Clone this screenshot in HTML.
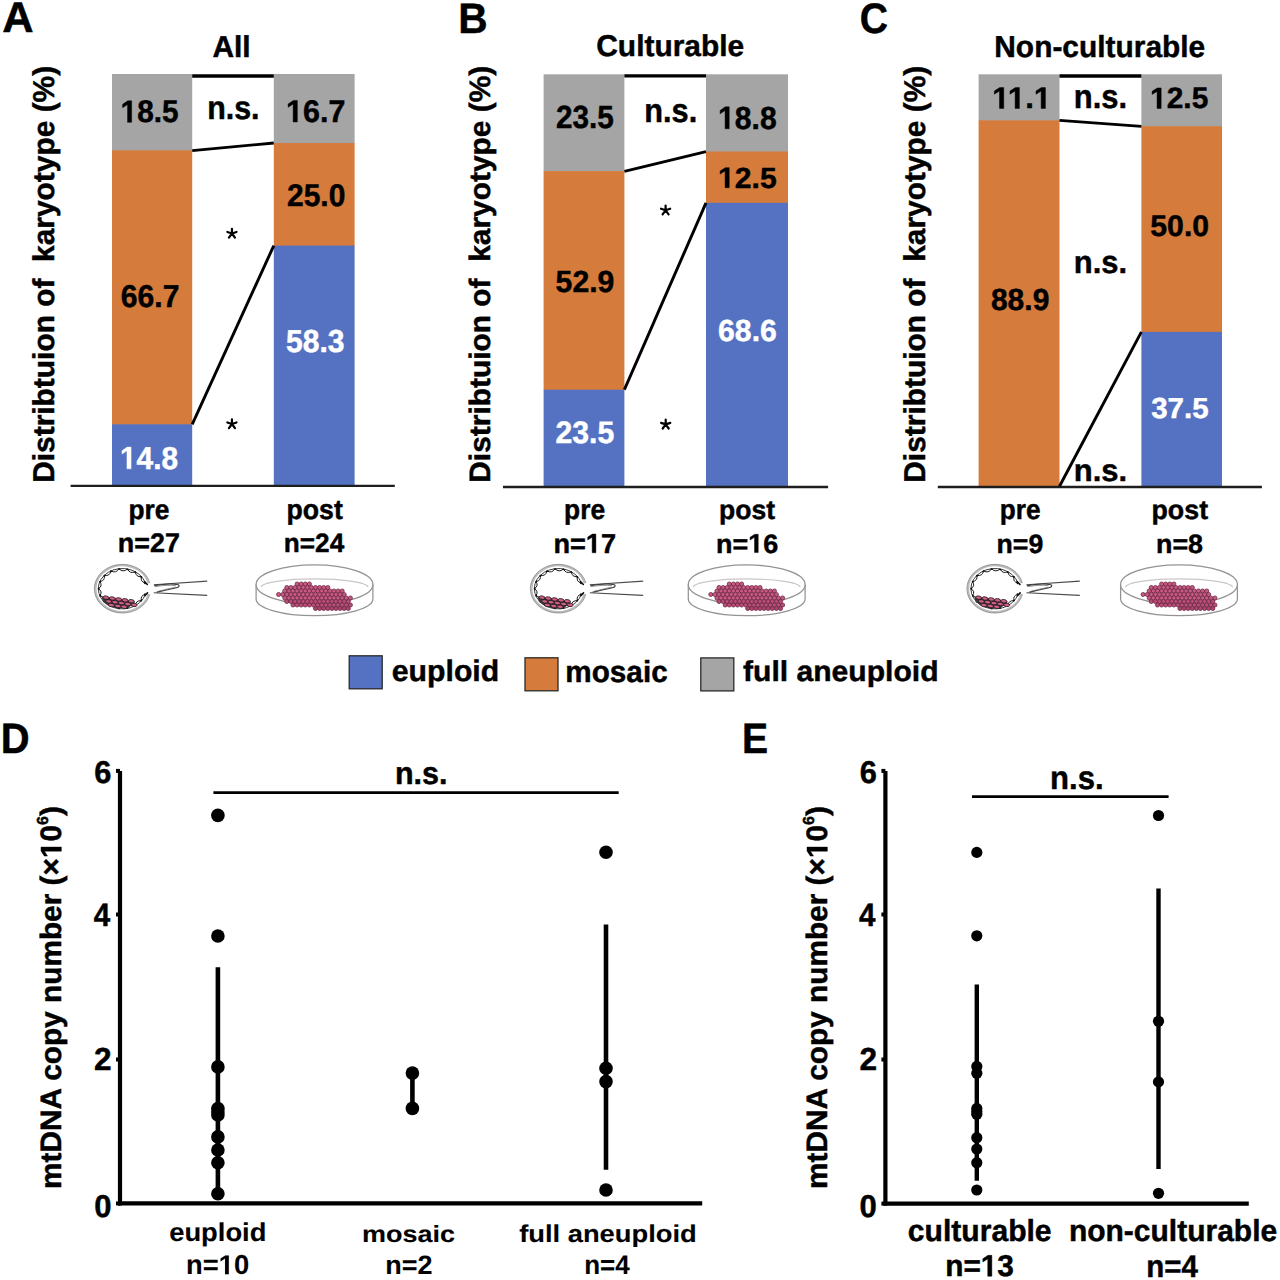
<!DOCTYPE html>
<html><head><meta charset="utf-8"><style>
html,body{margin:0;padding:0;background:#fff;}
svg{display:block;}
text{font-family:"Liberation Sans",sans-serif;font-weight:bold;font-size:100px;white-space:pre;text-rendering:geometricPrecision;}
</style></head><body>
<svg width="1280" height="1280" viewBox="0 0 1280 1280">
<defs>
<path id="one" d="M23.340,0.000 L23.340,-57.129 L6.836,-46.826 L6.836,-57.617 L24.072,-68.799 L37.061,-68.799 L37.061,0.000 Z"/>
<g id="embryo">
<path d="M26.4,-5.4 A27.0,23.2 0 1 0 26.4,5.4" fill="#fff" stroke="#bcbcbc" stroke-width="2.0"/>
<path d="M27.5,-5.6 A28.1,24.3 0 1 0 27.5,5.6" fill="none" stroke="#7a7a7a" stroke-width="0.7"/>
<path d="M23.07,5.57 A24.0,20.2 0 1 1 23.07,-5.57" fill="none" stroke="#222" stroke-width="0.9"/>
<path d="M23.07,5.57 Q17.58,6.99 19.29,12.02 Q13.43,11.51 13.07,16.94 Q7.58,14.57 5.19,19.72 Q0.77,15.79 -3.34,20.00 Q-6.14,15.01 -11.45,17.75 Q-12.27,12.32 -18.11,13.25 Q-16.84,8.08 -22.48,7.07 Q-19.29,2.81 -24.00,0.00 Q-19.29,-2.81 -22.48,-7.07 Q-16.84,-8.08 -18.11,-13.25 Q-12.27,-12.32 -11.45,-17.75 Q-6.14,-15.01 -3.34,-20.00 Q0.77,-15.79 5.19,-19.72 Q7.58,-14.57 13.07,-16.94 Q13.43,-11.51 19.29,-12.02 Q17.58,-6.99 23.07,-5.57" fill="none" stroke="#1a1a1a" stroke-width="1.0"/>
<g fill="#111"><circle cx="22.69" cy="5.46" r="0.95"/><circle cx="18.97" cy="11.78" r="0.95"/><circle cx="12.85" cy="16.61" r="0.95"/><circle cx="5.11" cy="19.33" r="0.95"/><circle cx="-3.28" cy="19.61" r="0.95"/><circle cx="-11.26" cy="17.40" r="0.95"/><circle cx="-17.81" cy="12.99" r="0.95"/><circle cx="-22.11" cy="6.93" r="0.95"/><circle cx="-23.60" cy="0.00" r="0.95"/><circle cx="-22.11" cy="-6.93" r="0.95"/><circle cx="-17.81" cy="-12.99" r="0.95"/><circle cx="-11.26" cy="-17.40" r="0.95"/><circle cx="-3.28" cy="-19.61" r="0.95"/><circle cx="5.11" cy="-19.33" r="0.95"/><circle cx="12.85" cy="-16.61" r="0.95"/><circle cx="18.97" cy="-11.78" r="0.95"/><circle cx="22.69" cy="-5.46" r="0.95"/></g>
<path d="M-20.5,8.2 L-10,9.0 L0,10.6 L12.5,12.6 L12,15.6 L5,19 L-5,19.8 L-14,17 L-19.6,12.8 Z" fill="#3a3a3a"/><g stroke="#151515" stroke-width="0.7"><ellipse cx="-16.3" cy="8.9" rx="3.0" ry="1.7" fill="#cf5d86" transform="rotate(8 -16.3 8.9)"/><ellipse cx="-10.0" cy="9.8" rx="3.0" ry="1.7" fill="#cf5d86" transform="rotate(8 -10.0 9.8)"/><ellipse cx="-3.6" cy="10.7" rx="3.0" ry="1.7" fill="#cf5d86" transform="rotate(8 -3.6 10.7)"/><ellipse cx="2.7" cy="11.6" rx="3.0" ry="1.7" fill="#cf5d86" transform="rotate(8 2.7 11.6)"/><ellipse cx="9.0" cy="12.5" rx="3.0" ry="1.7" fill="#cf5d86" transform="rotate(8 9.0 12.5)"/><ellipse cx="-13.6" cy="12.7" rx="3.0" ry="1.7" fill="#cf5d86" transform="rotate(8 -13.6 12.7)"/><ellipse cx="-7.3" cy="13.5" rx="3.0" ry="1.7" fill="#cf5d86" transform="rotate(8 -7.3 13.5)"/><ellipse cx="-0.9" cy="14.4" rx="3.0" ry="1.7" fill="#cf5d86" transform="rotate(8 -0.9 14.4)"/><ellipse cx="5.4" cy="15.3" rx="3.0" ry="1.7" fill="#cf5d86" transform="rotate(8 5.4 15.3)"/><ellipse cx="11.8" cy="16.2" rx="3.0" ry="1.7" fill="#cf5d86" transform="rotate(8 11.8 16.2)"/><ellipse cx="-10.9" cy="16.4" rx="3.0" ry="1.7" fill="#cf5d86" transform="rotate(8 -10.9 16.4)"/><ellipse cx="-4.5" cy="17.3" rx="3.0" ry="1.7" fill="#cf5d86" transform="rotate(8 -4.5 17.3)"/><ellipse cx="1.8" cy="18.1" rx="3.0" ry="1.7" fill="#cf5d86" transform="rotate(8 1.8 18.1)"/></g>
<path d="M31.5,-3.9 L84.9,-7.6 M31.5,4.1 L84.9,6.7" stroke="#4a4a4a" stroke-width="1.1" fill="none"/>
<path d="M32,-3.0 C40,-4.6 50,-5.2 56.2,-4.0 C57.6,-3.0 56.8,-1.6 54,-1.0 C47,0.4 40,2.2 34.2,3.6" stroke="#3a3a3a" stroke-width="1.05" fill="none"/><path d="M32.4,-2.0 C40,-3.4 48,-3.8 53.6,-3.0 M36,2.6 C42,1.0 48,-0.4 53.4,-1.6" stroke="#666" stroke-width="0.7" fill="none"/>
<path d="M22.2,-7.2 L25.0,-4.2 M22.6,7.0 L25.2,4.2" stroke="#111" stroke-width="1.6" stroke-linecap="round"/>
</g>
<g id="dish">
<path d="M-58.4,0 L-58.4,14.6 A58.4,16.6 0 0 0 58.4,14.6 L58.4,0" fill="#fff" stroke="#939393" stroke-width="1.25"/>
<ellipse cx="0" cy="0" rx="58.4" ry="19.6" fill="#fff" stroke="#939393" stroke-width="1.3"/>
<path d="M-53.5,2.8 A53.5,8.4 0 0 1 53.5,2.8" fill="none" stroke="#c8c8c8" stroke-width="1.1"/>
<g stroke="#6a2040" stroke-width="0.75"><circle cx="-17.4" cy="-0.5" r="2.05" fill="#c85a82"/><circle cx="-13.3" cy="-0.5" r="2.05" fill="#c85a82"/><circle cx="-9.2" cy="-0.5" r="2.05" fill="#c85a82"/><circle cx="-5.1" cy="-0.5" r="2.05" fill="#c85a82"/><circle cx="-27.7" cy="3.0" r="2.05" fill="#c85a82"/><circle cx="-23.6" cy="3.0" r="2.05" fill="#c85a82"/><circle cx="-19.5" cy="3.0" r="2.05" fill="#c85a82"/><circle cx="-15.4" cy="3.0" r="2.05" fill="#c85a82"/><circle cx="-11.3" cy="3.0" r="2.05" fill="#c85a82"/><circle cx="-7.2" cy="3.0" r="2.05" fill="#c85a82"/><circle cx="-3.1" cy="3.0" r="2.05" fill="#c85a82"/><circle cx="1.0" cy="3.0" r="2.05" fill="#c85a82"/><circle cx="5.1" cy="3.0" r="2.05" fill="#c85a82"/><circle cx="9.2" cy="3.0" r="2.05" fill="#c85a82"/><circle cx="13.3" cy="3.0" r="2.05" fill="#c85a82"/><circle cx="-29.8" cy="6.5" r="2.05" fill="#c85a82"/><circle cx="-25.6" cy="6.5" r="2.05" fill="#c85a82"/><circle cx="-21.5" cy="6.5" r="2.05" fill="#c85a82"/><circle cx="-17.4" cy="6.5" r="2.05" fill="#c85a82"/><circle cx="-13.3" cy="6.5" r="2.05" fill="#c85a82"/><circle cx="-9.2" cy="6.5" r="2.05" fill="#c85a82"/><circle cx="-5.1" cy="6.5" r="2.05" fill="#c85a82"/><circle cx="-1.0" cy="6.5" r="2.05" fill="#c85a82"/><circle cx="3.1" cy="6.5" r="2.05" fill="#c85a82"/><circle cx="7.2" cy="6.5" r="2.05" fill="#c85a82"/><circle cx="11.3" cy="6.5" r="2.05" fill="#c85a82"/><circle cx="15.4" cy="6.5" r="2.05" fill="#c85a82"/><circle cx="19.5" cy="6.5" r="2.05" fill="#c85a82"/><circle cx="23.6" cy="6.5" r="2.05" fill="#c85a82"/><circle cx="27.7" cy="6.5" r="2.05" fill="#c85a82"/><circle cx="-35.9" cy="10.0" r="2.05" fill="#c85a82"/><circle cx="-31.8" cy="10.0" r="2.05" fill="#c85a82"/><circle cx="-27.7" cy="10.0" r="2.05" fill="#c85a82"/><circle cx="-23.6" cy="10.0" r="2.05" fill="#c85a82"/><circle cx="-19.5" cy="10.0" r="2.05" fill="#c85a82"/><circle cx="-15.4" cy="10.0" r="2.05" fill="#c85a82"/><circle cx="-11.3" cy="10.0" r="2.05" fill="#c85a82"/><circle cx="-7.2" cy="10.0" r="2.05" fill="#c85a82"/><circle cx="-3.1" cy="10.0" r="2.05" fill="#c85a82"/><circle cx="1.0" cy="10.0" r="2.05" fill="#c85a82"/><circle cx="5.1" cy="10.0" r="2.05" fill="#c85a82"/><circle cx="9.2" cy="10.0" r="2.05" fill="#c85a82"/><circle cx="13.3" cy="10.0" r="2.05" fill="#c85a82"/><circle cx="17.4" cy="10.0" r="2.05" fill="#c85a82"/><circle cx="21.5" cy="10.0" r="2.05" fill="#c85a82"/><circle cx="25.6" cy="10.0" r="2.05" fill="#c85a82"/><circle cx="29.7" cy="10.0" r="2.05" fill="#c85a82"/><circle cx="-29.8" cy="13.5" r="2.05" fill="#c85a82"/><circle cx="-25.6" cy="13.5" r="2.05" fill="#c85a82"/><circle cx="-21.5" cy="13.5" r="2.05" fill="#c85a82"/><circle cx="-17.4" cy="13.5" r="2.05" fill="#c85a82"/><circle cx="-13.3" cy="13.5" r="2.05" fill="#c85a82"/><circle cx="-9.2" cy="13.5" r="2.05" fill="#c85a82"/><circle cx="-5.1" cy="13.5" r="2.05" fill="#c85a82"/><circle cx="-1.0" cy="13.5" r="2.05" fill="#c85a82"/><circle cx="3.1" cy="13.5" r="2.05" fill="#c85a82"/><circle cx="7.2" cy="13.5" r="2.05" fill="#c85a82"/><circle cx="11.3" cy="13.5" r="2.05" fill="#c85a82"/><circle cx="15.4" cy="13.5" r="2.05" fill="#c85a82"/><circle cx="19.5" cy="13.5" r="2.05" fill="#c85a82"/><circle cx="23.6" cy="13.5" r="2.05" fill="#c85a82"/><circle cx="27.7" cy="13.5" r="2.05" fill="#c85a82"/><circle cx="31.8" cy="13.5" r="2.05" fill="#c85a82"/><circle cx="35.9" cy="13.5" r="2.05" fill="#c85a82"/><circle cx="-27.7" cy="17.0" r="2.05" fill="#b94f77"/><circle cx="-23.6" cy="17.0" r="2.05" fill="#b94f77"/><circle cx="-19.5" cy="17.0" r="2.05" fill="#b94f77"/><circle cx="-15.4" cy="17.0" r="2.05" fill="#b94f77"/><circle cx="-11.3" cy="17.0" r="2.05" fill="#b94f77"/><circle cx="-7.2" cy="17.0" r="2.05" fill="#b94f77"/><circle cx="-3.1" cy="17.0" r="2.05" fill="#b94f77"/><circle cx="1.0" cy="17.0" r="2.05" fill="#b94f77"/><circle cx="5.1" cy="17.0" r="2.05" fill="#b94f77"/><circle cx="9.2" cy="17.0" r="2.05" fill="#b94f77"/><circle cx="13.3" cy="17.0" r="2.05" fill="#b94f77"/><circle cx="17.4" cy="17.0" r="2.05" fill="#b94f77"/><circle cx="21.5" cy="17.0" r="2.05" fill="#b94f77"/><circle cx="25.6" cy="17.0" r="2.05" fill="#b94f77"/><circle cx="29.7" cy="17.0" r="2.05" fill="#b94f77"/><circle cx="33.8" cy="17.0" r="2.05" fill="#b94f77"/><circle cx="-21.5" cy="20.5" r="2.05" fill="#b94f77"/><circle cx="-17.4" cy="20.5" r="2.05" fill="#b94f77"/><circle cx="-13.3" cy="20.5" r="2.05" fill="#b94f77"/><circle cx="-9.2" cy="20.5" r="2.05" fill="#b94f77"/><circle cx="-5.1" cy="20.5" r="2.05" fill="#b94f77"/><circle cx="-1.0" cy="20.5" r="2.05" fill="#b94f77"/><circle cx="3.1" cy="20.5" r="2.05" fill="#b94f77"/><circle cx="7.2" cy="20.5" r="2.05" fill="#b94f77"/><circle cx="11.3" cy="20.5" r="2.05" fill="#b94f77"/><circle cx="15.4" cy="20.5" r="2.05" fill="#b94f77"/><circle cx="19.5" cy="20.5" r="2.05" fill="#b94f77"/><circle cx="23.6" cy="20.5" r="2.05" fill="#b94f77"/><circle cx="27.7" cy="20.5" r="2.05" fill="#b94f77"/><circle cx="31.8" cy="20.5" r="2.05" fill="#b94f77"/><circle cx="35.9" cy="20.5" r="2.05" fill="#b94f77"/><circle cx="1.0" cy="24.0" r="2.05" fill="#aa466c"/><circle cx="5.1" cy="24.0" r="2.05" fill="#aa466c"/><circle cx="9.2" cy="24.0" r="2.05" fill="#aa466c"/><circle cx="13.3" cy="24.0" r="2.05" fill="#aa466c"/><circle cx="17.4" cy="24.0" r="2.05" fill="#aa466c"/><circle cx="21.5" cy="24.0" r="2.05" fill="#aa466c"/><circle cx="25.6" cy="24.0" r="2.05" fill="#aa466c"/><circle cx="29.7" cy="24.0" r="2.05" fill="#aa466c"/><circle cx="33.8" cy="24.0" r="2.05" fill="#aa466c"/></g>
</g>
</defs>
<rect width="1280" height="1280" fill="#fff"/>
<rect x="112" y="74" width="80.2" height="76.9" fill="#A5A5A5"/>
<rect x="112" y="150.3" width="80.2" height="274.6" fill="#D57B3B"/>
<rect x="112" y="424.3" width="80.2" height="61.2" fill="#5572C2"/>
<rect x="273.8" y="74" width="80.8" height="69.6" fill="#A5A5A5"/>
<rect x="273.8" y="143" width="80.8" height="103.2" fill="#D57B3B"/>
<rect x="273.8" y="245.6" width="80.8" height="239.9" fill="#5572C2"/>
<rect x="543.6" y="74.3" width="80.8" height="97.4" fill="#A5A5A5"/>
<rect x="543.6" y="171.1" width="80.8" height="219.2" fill="#D57B3B"/>
<rect x="543.6" y="389.7" width="80.8" height="96.8" fill="#5572C2"/>
<rect x="706" y="74.3" width="82" height="77.8" fill="#A5A5A5"/>
<rect x="706" y="151.5" width="82" height="51.9" fill="#D57B3B"/>
<rect x="706" y="202.8" width="82" height="283.7" fill="#5572C2"/>
<rect x="978.6" y="74.3" width="80.9" height="46.6" fill="#A5A5A5"/>
<rect x="978.6" y="120.3" width="80.9" height="366.2" fill="#D57B3B"/>
<rect x="1141.4" y="74.3" width="80.6" height="52.5" fill="#A5A5A5"/>
<rect x="1141.4" y="126.2" width="80.6" height="206.3" fill="#D57B3B"/>
<rect x="1141.4" y="331.9" width="80.6" height="154.6" fill="#5572C2"/>
<line x1="70.6" y1="485.8" x2="394.8" y2="485.8" stroke="#1e1e1e" stroke-width="2.3" stroke-linecap="butt"/>
<line x1="503" y1="487" x2="828.1" y2="487" stroke="#1e1e1e" stroke-width="2.3" stroke-linecap="butt"/>
<line x1="937.8" y1="487" x2="1261.9" y2="487" stroke="#1e1e1e" stroke-width="2.3" stroke-linecap="butt"/>
<line x1="192.2" y1="76" x2="273.8" y2="76" stroke="#000" stroke-width="3.4" stroke-linecap="butt"/>
<line x1="192.2" y1="150.6" x2="273.8" y2="143" stroke="#000" stroke-width="2.9" stroke-linecap="butt"/>
<line x1="192.2" y1="424.3" x2="273.8" y2="245.6" stroke="#000" stroke-width="2.9" stroke-linecap="butt"/>
<line x1="624.4" y1="75.9" x2="706" y2="75.9" stroke="#000" stroke-width="3.4" stroke-linecap="butt"/>
<line x1="624.4" y1="171.3" x2="706" y2="151.6" stroke="#000" stroke-width="2.9" stroke-linecap="butt"/>
<line x1="624.4" y1="389.7" x2="706" y2="202.8" stroke="#000" stroke-width="2.9" stroke-linecap="butt"/>
<line x1="1059.5" y1="76" x2="1141.4" y2="76" stroke="#000" stroke-width="3.4" stroke-linecap="butt"/>
<line x1="1059.5" y1="120.4" x2="1141.4" y2="126.4" stroke="#000" stroke-width="2.9" stroke-linecap="butt"/>
<line x1="1059.5" y1="486.3" x2="1141.4" y2="331.9" stroke="#000" stroke-width="2.9" stroke-linecap="butt"/>
<path d="M231.95,233.5 l0,-4.7 M231.95,233.5 l-4.6,-1.55 M231.95,233.5 l4.6,-1.55 M231.95,233.5 l-3,4.1 M231.95,233.5 l3,4.1" stroke="#000" stroke-width="2.2" stroke-linecap="round" fill="none"/>
<path d="M231.95,424 l0,-4.7 M231.95,424 l-4.6,-1.55 M231.95,424 l4.6,-1.55 M231.95,424 l-3,4.1 M231.95,424 l3,4.1" stroke="#000" stroke-width="2.2" stroke-linecap="round" fill="none"/>
<path d="M665.6,210.3 l0,-4.7 M665.6,210.3 l-4.6,-1.55 M665.6,210.3 l4.6,-1.55 M665.6,210.3 l-3,4.1 M665.6,210.3 l3,4.1" stroke="#000" stroke-width="2.2" stroke-linecap="round" fill="none"/>
<path d="M665.7,424.4 l0,-4.7 M665.7,424.4 l-4.6,-1.55 M665.7,424.4 l4.6,-1.55 M665.7,424.4 l-3,4.1 M665.7,424.4 l3,4.1" stroke="#000" stroke-width="2.2" stroke-linecap="round" fill="none"/>
<rect x="349.2" y="655.8" width="33" height="33" fill="#5572C2" stroke="#2a2a2a" stroke-width="1.3"/>
<rect x="525" y="657.8" width="33" height="33" fill="#D57B3B" stroke="#2a2a2a" stroke-width="1.3"/>
<rect x="700.8" y="657.9" width="33" height="33" fill="#A5A5A5" stroke="#2a2a2a" stroke-width="1.3"/>
<line x1="120" y1="771" x2="120" y2="1205.5" stroke="#000" stroke-width="4.2" stroke-linecap="butt"/>
<line x1="118" y1="1203.4" x2="702.2" y2="1203.4" stroke="#000" stroke-width="4.4" stroke-linecap="butt"/>
<line x1="116" y1="770.9" x2="120" y2="770.9" stroke="#000" stroke-width="4" stroke-linecap="butt"/>
<line x1="116" y1="914.5" x2="120" y2="914.5" stroke="#000" stroke-width="4" stroke-linecap="butt"/>
<line x1="116" y1="1059.5" x2="120" y2="1059.5" stroke="#000" stroke-width="4" stroke-linecap="butt"/>
<line x1="116" y1="1203.4" x2="120" y2="1203.4" stroke="#000" stroke-width="4" stroke-linecap="butt"/>
<line x1="213.4" y1="792.6" x2="618.7" y2="792.6" stroke="#000" stroke-width="2.8" stroke-linecap="butt"/>
<line x1="217.9" y1="967.3" x2="217.9" y2="1193.8" stroke="#000" stroke-width="4.6" stroke-linecap="butt"/>
<circle cx="217.9" cy="815.4" r="6.8"/>
<circle cx="217.9" cy="936" r="6.8"/>
<circle cx="217.9" cy="1066.9" r="6.8"/>
<circle cx="217.9" cy="1108.5" r="6.8"/>
<circle cx="217.9" cy="1112" r="6.8"/>
<circle cx="217.9" cy="1115" r="6.8"/>
<circle cx="217.9" cy="1136.9" r="6.8"/>
<circle cx="217.9" cy="1150" r="6.8"/>
<circle cx="217.9" cy="1162.7" r="6.8"/>
<circle cx="217.9" cy="1193.8" r="6.8"/>
<line x1="412.4" y1="1073.1" x2="412.4" y2="1108.4" stroke="#000" stroke-width="4.6" stroke-linecap="butt"/>
<circle cx="412.4" cy="1073.1" r="6.8"/>
<circle cx="412.4" cy="1108.4" r="6.8"/>
<line x1="606" y1="924.4" x2="606" y2="1169.8" stroke="#000" stroke-width="4.6" stroke-linecap="butt"/>
<circle cx="606" cy="852.3" r="6.8"/>
<circle cx="606" cy="1068.3" r="6.8"/>
<circle cx="606" cy="1081.6" r="6.8"/>
<circle cx="606" cy="1190" r="6.8"/>
<line x1="885.4" y1="771" x2="885.4" y2="1205.5" stroke="#000" stroke-width="4.2" stroke-linecap="butt"/>
<line x1="883.4" y1="1203.6" x2="1248.8" y2="1203.6" stroke="#000" stroke-width="4.4" stroke-linecap="butt"/>
<line x1="881.4" y1="770.9" x2="885.4" y2="770.9" stroke="#000" stroke-width="4" stroke-linecap="butt"/>
<line x1="881.4" y1="914.5" x2="885.4" y2="914.5" stroke="#000" stroke-width="4" stroke-linecap="butt"/>
<line x1="881.4" y1="1059.5" x2="885.4" y2="1059.5" stroke="#000" stroke-width="4" stroke-linecap="butt"/>
<line x1="881.4" y1="1203.6" x2="885.4" y2="1203.6" stroke="#000" stroke-width="4" stroke-linecap="butt"/>
<line x1="972" y1="796.6" x2="1168.6" y2="796.6" stroke="#000" stroke-width="2.8" stroke-linecap="butt"/>
<line x1="976.8" y1="984.4" x2="976.8" y2="1180.7" stroke="#000" stroke-width="4.4" stroke-linecap="butt"/>
<circle cx="976.8" cy="852.4" r="5.6"/>
<circle cx="976.8" cy="935.8" r="5.6"/>
<circle cx="976.8" cy="1066.4" r="5.6"/>
<circle cx="976.8" cy="1073.3" r="5.6"/>
<circle cx="976.8" cy="1108.4" r="5.6"/>
<circle cx="976.8" cy="1111.4" r="5.6"/>
<circle cx="976.8" cy="1114.3" r="5.6"/>
<circle cx="976.8" cy="1137.7" r="5.6"/>
<circle cx="976.8" cy="1149" r="5.6"/>
<circle cx="976.8" cy="1162.7" r="5.6"/>
<circle cx="976.8" cy="1190" r="5.6"/>
<line x1="1158.5" y1="888.4" x2="1158.5" y2="1169" stroke="#000" stroke-width="4.4" stroke-linecap="butt"/>
<circle cx="1158.5" cy="815.5" r="5.6"/>
<circle cx="1158.5" cy="1021.3" r="5.6"/>
<circle cx="1158.5" cy="1081.9" r="5.6"/>
<circle cx="1158.5" cy="1193.3" r="5.6"/>
<use href="#embryo" x="122.3" y="588.7"/>
<use href="#embryo" x="558.3" y="588.7"/>
<use href="#embryo" x="994.9" y="588.7"/>
<use href="#dish" x="314.5" y="584.5"/>
<use href="#dish" x="746.7" y="584.5"/>
<use href="#dish" x="1179" y="584.5"/>
<g fill="#000" stroke="#000">
<g transform="matrix(0.435 0 0 0.428 2.237 32.475)" stroke-width="1.043"><text>A</text></g>
<g transform="matrix(0.407 0 0 0.424 458.177 32.875)" stroke-width="1.083"><text>B</text></g>
<g transform="matrix(0.392 0 0 0.427 859.859 33.198)" stroke-width="1.1"><text>C</text></g>
<g transform="matrix(0.399 0 0 0.425 0.73 752.675)" stroke-width="1.092"><text>D</text></g>
<g transform="matrix(0.392 0 0 0.424 741.877 752.675)" stroke-width="1.104"><text>E</text></g>
<g transform="matrix(0.299 0 0 0.301 212.378 56.675)" stroke-width="1.5"><text>All</text></g>
<g transform="matrix(0.299 0 0 0.3 596.277 56.375)" stroke-width="1.502"><text>Culturable</text></g>
<g transform="matrix(0.299 0 0 0.304 994.279 56.771)" stroke-width="1.492"><text>Non-culturable</text></g>
<g transform="matrix(0 -0.299 0.301 0 54.253 482.821)" stroke-width="1.499"><text>Distribtuion of  karyotype (%)</text></g>
<g transform="matrix(0 -0.299 0.296 0 489.965 482.72)" stroke-width="1.513"><text>Distribtuion of  karyotype (%)</text></g>
<g transform="matrix(0 -0.299 0.301 0 924.553 482.72)" stroke-width="1.499"><text>Distribtuion of  karyotype (%)</text></g>
<g transform="matrix(0.298 0 0 0.313 120.586 122.362)" stroke-width="1.472"><text> 8.5</text><use href="#one" x="0"/></g>
<g transform="matrix(0.301 0 0 0.316 120.872 307.259)" stroke-width="1.459"><text>66.7</text></g>
<g transform="matrix(0.299 0 0 0.316 119.984 468.859)" stroke-width="1.464" fill="#fff" stroke="#fff"><text> 4.8</text><use href="#one" x="0"/></g>
<g transform="matrix(0.305 0 0 0.313 286.041 121.962)" stroke-width="1.455"><text> 6.7</text><use href="#one" x="0"/></g>
<g transform="matrix(0.3 0 0 0.313 286.974 205.562)" stroke-width="1.467"><text>25.0</text></g>
<g transform="matrix(0.301 0 0 0.317 285.923 351.5)" stroke-width="1.458" fill="#fff" stroke="#fff"><text>58.3</text></g>
<g transform="matrix(0.297 0 0 0.321 555.886 128.194)" stroke-width="1.458"><text>23.5</text></g>
<g transform="matrix(0.302 0 0 0.306 555.618 292.369)" stroke-width="1.479"><text>52.9</text></g>
<g transform="matrix(0.302 0 0 0.311 555.469 442.808)" stroke-width="1.469" fill="#fff" stroke="#fff"><text>23.5</text></g>
<g transform="matrix(0.301 0 0 0.319 718.066 128.756)" stroke-width="1.451"><text> 8.8</text><use href="#one" x="0"/></g>
<g transform="matrix(0.301 0 0 0.291 718.071 187.684)" stroke-width="1.522"><text> 2.5</text><use href="#one" x="0"/></g>
<g transform="matrix(0.302 0 0 0.304 718.068 341.071)" stroke-width="1.486" fill="#fff" stroke="#fff"><text>68.6</text></g>
<g transform="matrix(0.312 0 0 0.302 992.198 108.375)" stroke-width="1.466"><text> <tspan dx="-5.518"> </tspan>. </text><use href="#one" x="0"/><use href="#one" x="50.107"/><use href="#one" x="133.513"/></g>
<g transform="matrix(0.3 0 0 0.306 990.924 310.169)" stroke-width="1.484"><text>88.9</text></g>
<g transform="matrix(0.299 0 0 0.299 1150.082 108.476)" stroke-width="1.504"><text> 2.5</text><use href="#one" x="0"/></g>
<g transform="matrix(0.302 0 0 0.298 1150.32 236.377)" stroke-width="1.501"><text>50.0</text></g>
<g transform="matrix(0.295 0 0 0.289 1151.188 417.942)" stroke-width="1.542" fill="#fff" stroke="#fff"><text>37.5</text></g>
<g transform="matrix(0.304 0 0 0.332 207.148 119.143)" stroke-width="1.417"><text>n.s.</text></g>
<g transform="matrix(0.308 0 0 0.335 644.224 121.84)" stroke-width="1.4"><text>n.s.</text></g>
<g transform="matrix(0.31 0 0 0.335 1073.808 107.64)" stroke-width="1.395"><text>n.s.</text></g>
<g transform="matrix(0.31 0 0 0.319 1073.712 273.056)" stroke-width="1.431"><text>n.s.</text></g>
<g transform="matrix(0.31 0 0 0.312 1073.712 480.963)" stroke-width="1.448"><text>n.s.</text></g>
<g transform="matrix(0.263 0 0 0.275 128.513 519.493)" stroke-width="1.671"><text>pre</text></g>
<g transform="matrix(0.269 0 0 0.268 117.874 551.775)" stroke-width="1.675"><text>n=27</text></g>
<g transform="matrix(0.267 0 0 0.277 286.491 518.961)" stroke-width="1.656"><text>post</text></g>
<g transform="matrix(0.262 0 0 0.265 283.772 551.775)" stroke-width="1.708"><text>n=24</text></g>
<g transform="matrix(0.264 0 0 0.277 564.009 518.951)" stroke-width="1.663"><text>pre</text></g>
<g transform="matrix(0.271 0 0 0.272 553.466 552.775)" stroke-width="1.657"><text>n= 7</text><use href="#one" x="119.469"/></g>
<g transform="matrix(0.266 0 0 0.269 718.999 519.118)" stroke-width="1.682"><text>post</text></g>
<g transform="matrix(0.27 0 0 0.265 715.97 552.51)" stroke-width="1.683"><text>n= 6</text><use href="#one" x="119.469"/></g>
<g transform="matrix(0.262 0 0 0.277 999.77 518.951)" stroke-width="1.668"><text>pre</text></g>
<g transform="matrix(0.267 0 0 0.265 996.49 552.51)" stroke-width="1.693"><text>n=9</text></g>
<g transform="matrix(0.268 0 0 0.269 1151.483 519.118)" stroke-width="1.675"><text>post</text></g>
<g transform="matrix(0.269 0 0 0.265 1155.975 552.51)" stroke-width="1.686"><text>n=8</text></g>
<g transform="matrix(0.302 0 0 0.297 391.816 681.242)" stroke-width="1.503"><text>euploid</text></g>
<g transform="matrix(0.297 0 0 0.303 565.293 681.972)" stroke-width="1.5"><text>mosaic</text></g>
<g transform="matrix(0.301 0 0 0.288 742.974 680.822)" stroke-width="1.528"><text>full aneuploid</text></g>
<g transform="matrix(0 -0.298 0.296 0 61.367 1189.011)" stroke-width="1.517"><text>mtDNA copy number (× 0<tspan dy="-44" font-size="54">6</tspan><tspan dy="44">)</tspan></text><use href="#one" x="1110.297"/></g>
<g transform="matrix(0.308 0 0 0.316 94.346 782.559)" stroke-width="1.441"><text>6</text></g>
<g transform="matrix(0.296 0 0 0.322 93.681 925.675)" stroke-width="1.456"><text>4</text></g>
<g transform="matrix(0.316 0 0 0.319 94.12 1070.475)" stroke-width="1.418"><text>2</text></g>
<g transform="matrix(0.311 0 0 0.316 94.183 1216.959)" stroke-width="1.436"><text>0</text></g>
<g transform="matrix(0.305 0 0 0.315 394.99 784.46)" stroke-width="1.45"><text>n.s.</text></g>
<g transform="matrix(0.273 0 0 0.258 169.257 1241.437)" stroke-width="0.377"><text>euploid</text></g>
<g transform="matrix(0.273 0 0 0.273 186.078 1274.177)" stroke-width="0.366"><text>n= 0</text><use href="#one" x="119.469"/></g>
<g transform="matrix(0.27 0 0 0.234 362.045 1241.516)" stroke-width="0.398"><text>mosaic</text></g>
<g transform="matrix(0.27 0 0 0.266 385.196 1274.35)" stroke-width="0.373"><text>n=2</text></g>
<g transform="matrix(0.273 0 0 0.243 519.241 1241.652)" stroke-width="0.389"><text>full aneuploid</text></g>
<g transform="matrix(0.26 0 0 0.27 584.163 1274.35)" stroke-width="0.378"><text>n=4</text></g>
<g transform="matrix(0 -0.298 0.296 0 827.367 1189.011)" stroke-width="1.517"><text>mtDNA copy number (× 0<tspan dy="-44" font-size="54">6</tspan><tspan dy="44">)</tspan></text><use href="#one" x="1110.297"/></g>
<g transform="matrix(0.308 0 0 0.316 859.746 782.559)" stroke-width="1.441"><text>6</text></g>
<g transform="matrix(0.296 0 0 0.322 859.081 925.675)" stroke-width="1.456"><text>4</text></g>
<g transform="matrix(0.316 0 0 0.319 859.52 1070.475)" stroke-width="1.418"><text>2</text></g>
<g transform="matrix(0.311 0 0 0.316 859.583 1216.959)" stroke-width="1.436"><text>0</text></g>
<g transform="matrix(0.311 0 0 0.328 1050.003 789.147)" stroke-width="1.409"><text>n.s.</text></g>
<g transform="matrix(0.301 0 0 0.303 907.773 1240.722)" stroke-width="1.49"><text>culturable</text></g>
<g transform="matrix(0.298 0 0 0.303 945.187 1276.22)" stroke-width="1.496"><text>n= 3</text><use href="#one" x="119.469"/></g>
<g transform="matrix(0.3 0 0 0.303 1068.876 1240.722)" stroke-width="1.492"><text>non-culturable</text></g>
<g transform="matrix(0.295 0 0 0.314 1146.308 1276.675)" stroke-width="1.478"><text>n=4</text></g>
</g>
</svg>
</body></html>
